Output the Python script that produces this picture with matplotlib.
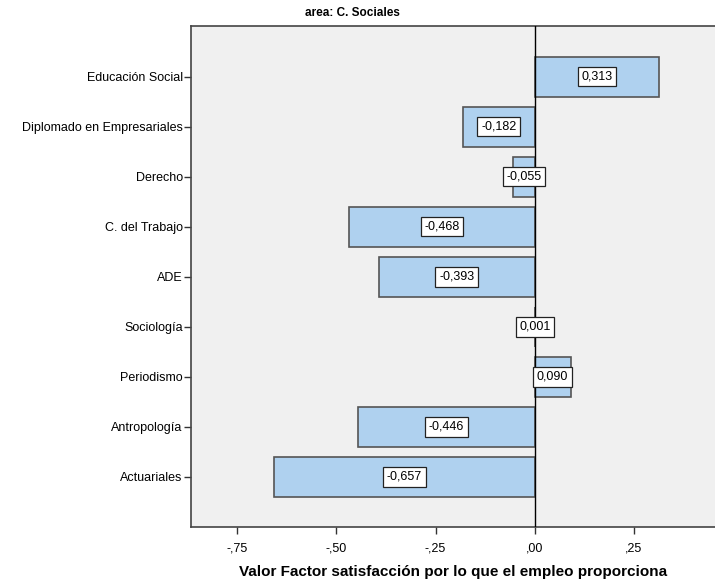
import matplotlib.pyplot as plt

plt.rcParams['font.family'] = ['Liberation Sans', 'DejaVu Sans']

# Data
carreras = ['Educación Social', 'Diplomado en Empresariales', 'Derecho', 'C. del Trabajo',
            'ADE', 'Sociología', 'Periodismo', 'Antropología', 'Actuariales']
valores = [0.313, -0.182, -0.055, -0.468, -0.393, 0.001, 0.090, -0.446, -0.657]
xticks = [-0.75, -0.50, -0.25, 0.00, 0.25]
xtick_labels = ['-,75', '-,50', '-,25', ',00', ',25']

fig = plt.figure(figsize=(7.15, 5.82), dpi=100)
ax = fig.add_axes([191 / 715, 1 - 527 / 582, 524 / 715, (527 - 25.5) / 582])
ax.set_facecolor('#f0f0f0')

pos = list(range(len(carreras)))
ax.barh(pos, valores, height=0.8, color='#afd1ef', edgecolor='#555555', linewidth=1.2, zorder=2)
ax.axvline(0, color='black', linewidth=1, zorder=3)

for y, v in zip(pos, valores):
    txt = ('%.3f' % v).replace('.', ',')
    ax.text(v / 2, y, txt, ha='center', va='center', fontsize=9, zorder=4,
            bbox=dict(boxstyle='square,pad=0.3', facecolor='white', edgecolor='#222222', linewidth=0.9))

ax.set_xlim(-0.866, 0.454)
ax.set_ylim(9.0, -1.02)
ax.set_yticks(pos)
ax.set_yticklabels(carreras, fontsize=9)
ax.set_xticks(xticks)
ax.set_xticklabels(xtick_labels, fontsize=9)
ax.tick_params(axis='both', direction='out', length=5, width=1, color='#333333')
ax.tick_params(axis='x', pad=6)
ax.tick_params(axis='y', pad=1)

for side in ['left', 'bottom', 'top']:
    ax.spines[side].set_color('#444444')
    ax.spines[side].set_linewidth(1.2)
ax.spines['right'].set_visible(False)

ax.set_xlabel('Valor Factor satisfacción por lo que el empleo proporciona',
              fontsize=11, fontweight='bold', labelpad=8)
fig.text(352 / 715, 1 - 13 / 582, 'area: C. Sociales', ha='center', va='center',
         fontsize=8.5, fontweight='bold')

fig.savefig('out.png', dpi=100)
